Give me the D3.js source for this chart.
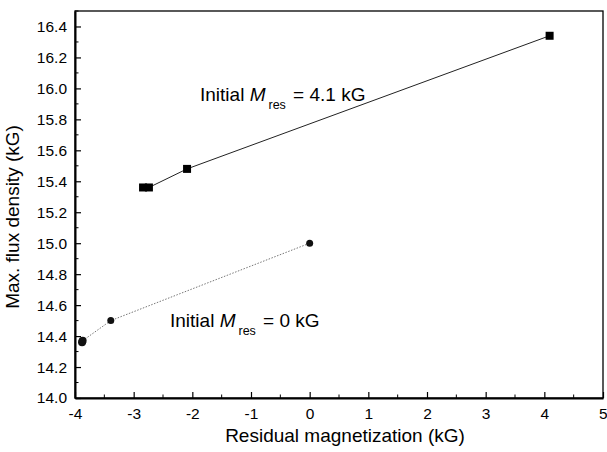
<!DOCTYPE html>
<html>
<head>
<meta charset="utf-8">
<script src="https://cdn.jsdelivr.net/npm/d3@7"></script>
<style>
  body { margin: 0; background: #fff; }
  svg { font-family: "Liberation Sans", Arial, sans-serif; }
</style>
</head>
<body>
<svg id="chart" width="607" height="452"></svg>
<script>
// residual magnetization (kG) vs max flux density (kG)
const squareX = [-2.84, -2.74, -2.09, 4.09];
const squareY = [15.36, 15.36, 15.48, 16.34];
const circleX = [-3.88, -3.87, -3.39, 0.0];
const circleY = [14.36, 14.37, 14.5, 15.0];
const xTicks = [-4, -3, -2, -1, 0, 1, 2, 3, 4, 5];
const yTicks = [14.0, 14.2, 14.4, 14.6, 14.8, 15.0, 15.2, 15.4, 15.6, 15.8, 16.0, 16.2, 16.4];

const mLeft = 75, mRight = 603, mTop = 11, mBottom = 398;

const svg = d3.select('#chart');

const x = d3.scaleLinear().domain([-4, 5]).range([mLeft, mRight]);
const y = d3.scaleLinear().domain([14.0, 16.5]).range([mBottom, mTop]);

// frame
svg.append('rect')
    .attr('x', mLeft).attr('y', mTop)
    .attr('width', mRight - mLeft).attr('height', mBottom - mTop)
    .attr('fill', 'none').attr('stroke', '#000').attr('stroke-width', 1.3);

// minor ticks
const xMinor = d3.range(-3.5, 5, 1);
const yMinor = d3.range(14.1, 16.5, 0.2);

const xAxis = d3.axisBottom(x).tickValues(xTicks).tickSizeInner(-6).tickSizeOuter(0).tickPadding(10).tickFormat(d => String(d));
const gx = svg.append('g').attr('transform', `translate(0,${mBottom})`).call(xAxis);
xMinor.forEach(v => gx.append('line').attr('x1', x(v)).attr('x2', x(v)).attr('y1', 0).attr('y2', -3.5).attr('stroke', '#000'));

const yAxis = d3.axisLeft(y).tickValues(yTicks).tickSizeInner(-6).tickSizeOuter(0).tickPadding(8).tickFormat(d3.format('.1f'));
const gy = svg.append('g').attr('transform', `translate(${mLeft},0)`).call(yAxis);
yMinor.forEach(v => gy.append('line').attr('x1', 0).attr('x2', 3.5).attr('y1', y(v)).attr('y2', y(v)).attr('stroke', '#000'));

[gx, gy].forEach(g => {
    g.select('.domain').attr('stroke-width', 2);
    g.selectAll('.tick line').attr('stroke-width', 1.2);
    g.selectAll('.tick text').attr('font-size', 15.5).attr('fill', '#000')
        .attr('font-family', '"Liberation Sans", Arial, sans-serif');
});
// keep the last x label inside the page
gx.selectAll('.tick text').filter(d => d === 5).attr('text-anchor', 'end').attr('dx', 4);

// lines
const sqData = squareX.map((v, i) => [v, squareY[i]]);
const ciData = circleX.map((v, i) => [v, circleY[i]]);
const line = d3.line().x(d => x(d[0])).y(d => y(d[1]));

svg.append('path').datum(sqData).attr('d', line)
    .attr('fill', 'none').attr('stroke', '#222').attr('stroke-width', 1);
svg.append('path').datum(ciData.slice(1)).attr('d', line)
    .attr('fill', 'none').attr('stroke', '#777').attr('stroke-width', 1).attr('stroke-dasharray', '1.5,1.5');

// markers
svg.selectAll('rect.sq').data(sqData).join('rect').attr('class', 'sq')
    .attr('x', d => x(d[0]) - 4).attr('y', d => y(d[1]) - 4)
    .attr('width', 8).attr('height', 8).attr('fill', '#000');
svg.selectAll('circle.ci').data(ciData).join('circle').attr('class', 'ci')
    .attr('cx', d => x(d[0])).attr('cy', d => y(d[1]))
    .attr('r', (d, i) => i < 2 ? 4 : 3.5).attr('fill', '#111');

// annotations
function annot(tx, ty, val) {
    const t = svg.append('text').attr('x', tx).attr('y', ty).attr('font-size', 19).attr('fill', '#000');
    t.append('tspan').text('Initial ');
    t.append('tspan').attr('font-style', 'italic').text('M');
    t.append('tspan').attr('font-size', 12.5).attr('dx', 3).attr('dy', 8).text('res');
    t.append('tspan').attr('dx', 2).attr('dy', -8).text(' = ' + val + ' kG');
}
annot(200, 101, '4.1');
annot(170, 327, '0');

// axis titles
svg.append('text').attr('x', 345).attr('y', 442)
    .attr('text-anchor', 'middle').attr('font-size', 19).text('Residual magnetization (kG)');
svg.append('text').attr('transform', 'translate(19,217) rotate(-90)')
    .attr('text-anchor', 'middle').attr('font-size', 19).text('Max. flux density (kG)');
</script>
</body>
</html>
